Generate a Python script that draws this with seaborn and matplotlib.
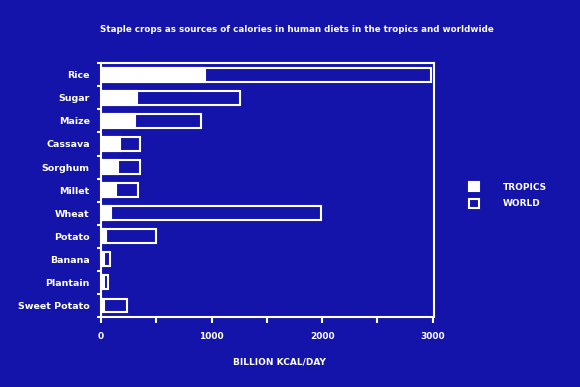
import matplotlib
matplotlib.use("Agg")
import matplotlib.pyplot as plt
import seaborn as sns
import pandas as pd
from matplotlib.patches import Patch
from matplotlib.ticker import MultipleLocator, FixedLocator

crops = ["Rice", "Sugar", "Maize", "Cassava", "Sorghum", "Millet", "Wheat",
         "Potato", "Banana", "Plantain", "Sweet Potato"]
world = [2980, 1255, 905, 355, 355, 332, 1990, 494, 82, 64, 238]
tropics = [940, 322, 307, 172, 151, 133, 95, 45, 30, 25, 30]
xticks = [0, 1000, 2000, 3000]

BG = "#1414aa"
FG = "white"

sns.set_theme(style="white")
plt.rcParams['font.family'] = ['DejaVu Sans']
plt.rcParams['font.weight'] = 'bold'

df = pd.DataFrame({"crop": crops, "world": world, "tropics": tropics})

fig = plt.figure(figsize=(5.8, 3.87), dpi=100, facecolor=BG)
ax = fig.add_axes([0.174, 0.182, 0.574, 0.654])
ax.set_facecolor(BG)

sns.barplot(data=df, y="crop", x="world", orient="h", ax=ax,
            color=BG, edgecolor=FG, linewidth=1.5, width=0.57, saturation=1)
sns.barplot(data=df, y="crop", x="tropics", orient="h", ax=ax,
            color=FG, edgecolor=FG, linewidth=1.5, width=0.57, saturation=1)

ax.set_xlim(0, 3010)
ax.set_ylim(len(crops) - 0.5, -0.5)
ax.set_xticks(xticks)
ax.xaxis.set_minor_locator(MultipleLocator(500))
ax.yaxis.set_minor_locator(FixedLocator([i + 0.5 for i in range(-1, len(crops))]))

for s in ax.spines.values():
    s.set_color(FG)
    s.set_linewidth(1.5)

ax.tick_params(axis="x", which="both", colors=FG, length=4, width=1.5,
               direction="out", labelsize=6.5, pad=7, bottom=True)
ax.tick_params(axis="y", which="major", colors=FG, length=0, labelsize=6.8, pad=8)
ax.tick_params(axis="y", which="minor", colors=FG, length=3, width=1.5,
               direction="out", left=True)
for lab in ax.get_xticklabels() + ax.get_yticklabels():
    lab.set_color(FG)
    lab.set_fontweight("bold")

ax.set_ylabel("")
ax.set_xlabel("BILLION KCAL/DAY", color=FG, fontsize=6.5, fontweight="bold")
ax.xaxis.set_label_coords(0.535, -0.16)

fig.text(0.512, 0.925, "Staple crops as sources of calories in human diets in the tropics and worldwide",
         color=FG, fontsize=6.3, fontweight="bold", ha="center", va="center")

handles = [Patch(facecolor=FG, edgecolor=FG, linewidth=1.5, label="TROPICS"),
           Patch(facecolor=BG, edgecolor=FG, linewidth=1.5, label="WORLD")]
leg = fig.legend(handles=handles, loc="center left", bbox_to_anchor=(0.795, 0.495),
                 frameon=False, handlelength=1.1, handleheight=1.1,
                 handletextpad=2.6, labelspacing=0.8, fontsize=6.5)
for t in leg.get_texts():
    t.set_color(FG)
    t.set_fontweight("bold")

fig.savefig("out.png", dpi=100, facecolor=BG)
